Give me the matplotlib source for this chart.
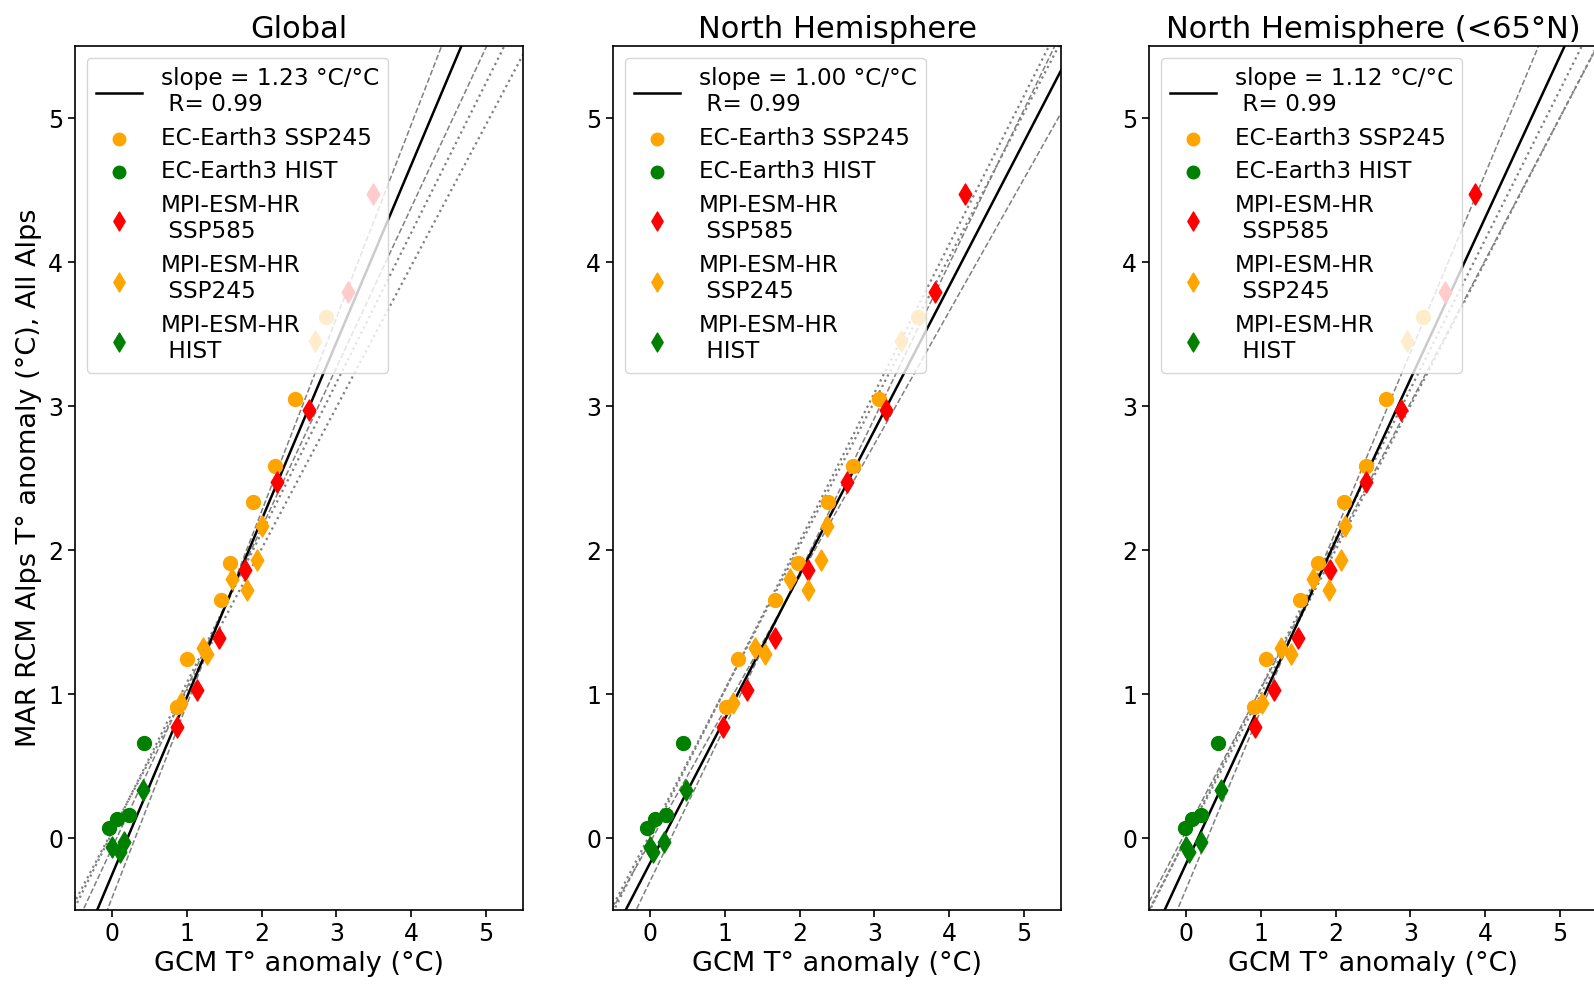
import numpy as np
import matplotlib
matplotlib.use("Agg")
import matplotlib.pyplot as plt

plt.rcParams["font.family"] = ["DejaVu Sans"]
plt.rcParams["axes.linewidth"] = 1.2
plt.rcParams["xtick.major.width"] = 1.2
plt.rcParams["ytick.major.width"] = 1.2
plt.rcParams["xtick.major.size"] = 5
plt.rcParams["ytick.major.size"] = 5

# ------------------------------------------------------------
# RCM anomalies (same for every panel)
# ------------------------------------------------------------
y_ec_ssp245 = [0.91, 1.24, 1.65, 1.91, 2.33, 2.58, 3.05, 3.62]
y_ec_hist = [0.07, 0.13, 0.16, 0.66]
y_mpi_ssp585 = [0.77, 1.03, 1.39, 1.86, 2.47, 2.97, 3.79, 4.47]
y_mpi_ssp245 = [0.94, 1.28, 1.32, 1.72, 1.80, 1.93, 2.17, 3.45]
y_mpi_hist = [-0.06, -0.10, -0.03, 0.33]

# GCM anomalies per domain
x_ec_ssp245 = {
    "glob": [0.87, 1.00, 1.45, 1.58, 1.89, 2.18, 2.45, 2.86],
    "nh": [1.02, 1.18, 1.67, 1.98, 2.38, 2.72, 3.06, 3.59],
    "nh65": [0.90, 1.07, 1.52, 1.77, 2.11, 2.41, 2.68, 3.17],
}
x_ec_hist = {
    "glob": [-0.04, 0.06, 0.22, 0.42],
    "nh": [-0.05, 0.06, 0.21, 0.44],
    "nh65": [-0.02, 0.07, 0.20, 0.42],
}
x_mpi_ssp585 = {
    "glob": [0.87, 1.13, 1.43, 1.78, 2.21, 2.64, 3.15, 3.49],
    "nh": [0.97, 1.29, 1.67, 2.11, 2.63, 3.16, 3.81, 4.21],
    "nh65": [0.92, 1.18, 1.50, 1.92, 2.41, 2.88, 3.46, 3.86],
}
x_mpi_ssp245 = {
    "glob": [0.92, 1.27, 1.22, 1.81, 1.60, 1.94, 2.01, 2.72],
    "nh": [1.11, 1.53, 1.40, 2.11, 1.87, 2.29, 2.36, 3.36],
    "nh65": [1.02, 1.40, 1.27, 1.91, 1.70, 2.07, 2.12, 2.95],
}
x_mpi_hist = {
    "glob": [0.00, 0.10, 0.16, 0.41],
    "nh": [-0.01, 0.04, 0.18, 0.48],
    "nh65": [0.00, 0.04, 0.20, 0.47],
}

domains = ["glob", "nh", "nh65"]
titles = ["Global", "North Hemisphere", "North Hemisphere (<65°N)"]

# regression fits: slope, intercept, R
slopes = [1.23, 1.00, 1.12]
intercepts = [-0.25, -0.17, -0.175]
r_values = [0.99, 0.99, 0.99]

# slope uncertainty lines (dashed) and reference lines (dotted): (slope, intercept)
dashed_lines = [
    [(1.34, -0.41), (1.11, -0.065)],
    [(1.07, -0.296), (0.92, -0.026)],
    [(1.24, -0.35), (0.99, 0.05)],
]
dotted_lines = [
    [(1.04, 0.04), (0.98, 0.05)],
    [(1.03, 0.00), (1.00, 0.03)],
    [(1.037, 0.006), (1.00, 0.00)],
]

# ------------------------------------------------------------
# Figure
# ------------------------------------------------------------
fig = plt.figure(figsize=(15.94, 9.88), dpi=100)
W, H = 1594, 988
lefts = [75, 613, 1149]
ax_w = 448
ax_bottom = 910
ax_top = 46

xx = np.linspace(-1, 6, 200)

for i, dom in enumerate(domains):
    ax = fig.add_axes([lefts[i] / W, 1 - ax_bottom / H, ax_w / W, (ax_bottom - ax_top) / H])

    for s, b in dashed_lines[i]:
        ax.plot(xx, s * xx + b, "--", color="grey", lw=1.1, zorder=1)
    for s, b in dotted_lines[i]:
        ax.plot(xx, s * xx + b, ":", color="grey", lw=1.6, zorder=1)

    lab = "slope = %.2f °C/°C\n R= %.2f" % (slopes[i], r_values[i])
    ax.plot(xx, slopes[i] * xx + intercepts[i], "-", color="black", lw=1.8, label=lab, zorder=2)

    ax.scatter(x_ec_ssp245[dom], y_ec_ssp245, s=100, marker="o", color="orange",
               label="EC-Earth3 SSP245", zorder=3)
    ax.scatter(x_ec_hist[dom], y_ec_hist, s=100, marker="o", color="green",
               label="EC-Earth3 HIST", zorder=3)
    ax.scatter(x_mpi_ssp585[dom], y_mpi_ssp585, s=115, marker="d", color="red",
               label="MPI-ESM-HR\n SSP585", zorder=3)
    ax.scatter(x_mpi_ssp245[dom], y_mpi_ssp245, s=115, marker="d", color="orange",
               label="MPI-ESM-HR\n SSP245", zorder=3)
    ax.scatter(x_mpi_hist[dom], y_mpi_hist, s=115, marker="d", color="green",
               label="MPI-ESM-HR\n HIST", zorder=3)

    ax.set_xlim(-0.5, 5.5)
    ax.set_ylim(-0.5, 5.5)
    ax.set_xticks(range(0, 6))
    ax.set_yticks(range(0, 6))
    ax.tick_params(labelsize=17)
    ax.set_title(titles[i], fontsize=22)
    ax.set_xlabel("GCM T° anomaly (°C)", fontsize=19.5)
    if i == 0:
        ax.set_ylabel("MAR RCM Alps T° anomaly (°C), All Alps", fontsize=19.5)
    ax.legend(loc="upper left", fontsize=16.7, labelspacing=0.45, markerscale=0.9)

fig.savefig("out.png", dpi=100)
